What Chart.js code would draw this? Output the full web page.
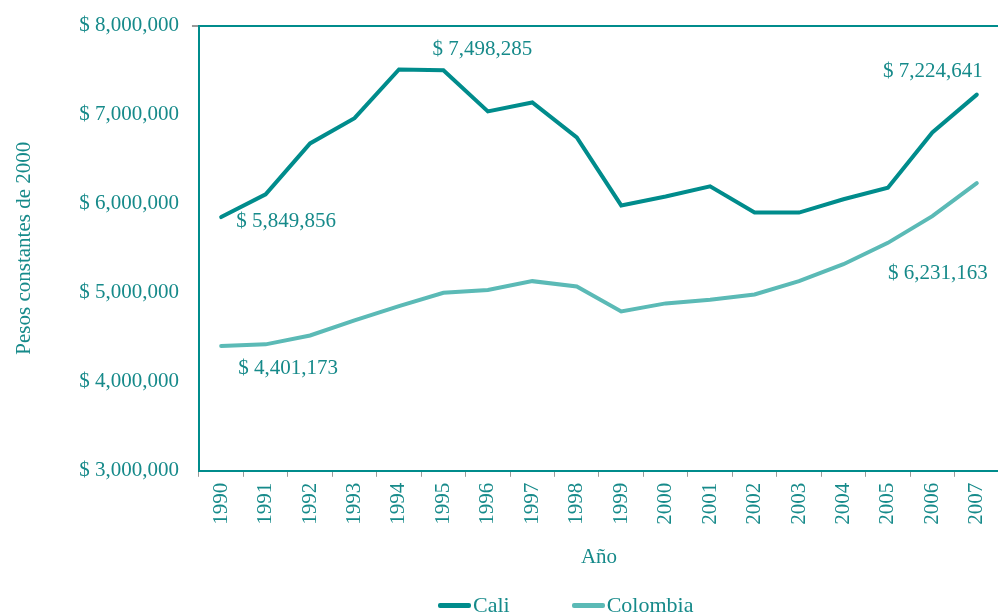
<!DOCTYPE html>
<html>
<head>
<meta charset="utf-8">
<script src="https://cdn.jsdelivr.net/npm/chart.js@4.4.1/dist/chart.umd.min.js"></script>
<style>
  html, body { margin: 0; padding: 0; background: #fff; overflow: hidden; }
  #box { width: 998px; height: 613px; position: relative; overflow: hidden; }
  #lienzo { width: 1008px; height: 613px; }
  #leyenda { position: absolute; left: 438px; top: 592px; display: flex; align-items: center;
             font-family: 'Liberation Serif', 'Times New Roman', serif; font-size: 22px; color: #168a8a; }
  #leyenda span.item { display: flex; align-items: center; margin-right: 62px; }
  #leyenda span.linea { display: inline-block; width: 33px; height: 5px; margin-right: 2px; border-radius: 2px; }
</style>
</head>
<body>
<div id="box"><div id="lienzo"><canvas id="grafico"></canvas></div><div id="leyenda"></div></div>
<script>
// datos (pesos constantes de 2000)
const anios = ['1990','1991','1992','1993','1994','1995','1996','1997','1998','1999',
               '2000','2001','2002','2003','2004','2005','2006','2007'];
const cali = [5849856, 6105000, 6677000, 6960000, 7507000, 7498285, 7036000, 7137000, 6745000,
              5980000, 6080000, 6195000, 5900000, 5900000, 6050000, 6180000, 6800000, 7224641];
const colombia = [4401173, 4420000, 4520000, 4690000, 4850000, 5000000, 5030000, 5130000, 5070000,
                  4790000, 4880000, 4920000, 4980000, 5130000, 5320000, 5560000, 5860000, 6231163];

// etiquetas de valores: [serie, índice]
const etiquetas = [
    { serie: 0, i: 0 },
    { serie: 0, i: 5 },
    { serie: 0, i: 17 },
    { serie: 1, i: 0 },
    { serie: 1, i: 17 }
];

const verde = '#008c8c';
const verdeClaro = '#5bbab6';
const texto = '#168a8a';
const fuente = 'Liberation Serif, Times New Roman, serif';

function pesos(v) {
    return '$ ' + Math.round(v).toLocaleString('en-US');
}

// plugin para escribir los valores junto a los puntos
const plugEtiquetas = {
    id: 'etiquetas',
    afterDatasetsDraw(chart) {
        const ctx = chart.ctx;
        const x = chart.scales.x, y = chart.scales.y;
        // desplazamientos de cada etiqueta respecto a su punto
        const ajustes = [
            { dx: 15, dy: 4, align: 'left' },
            { dx: 39, dy: -21, align: 'center' },
            { dx: 6, dy: -23, align: 'right' },
            { dx: 17, dy: 22, align: 'left' },
            { dx: 11, dy: 90, align: 'right' }
        ];
        ctx.save();
        ctx.font = '21px ' + fuente;
        ctx.fillStyle = texto;
        ctx.textBaseline = 'middle';
        etiquetas.forEach((e, k) => {
            const datos = e.serie === 0 ? cali : colombia;
            const px = x.getPixelForValue(e.i);
            const py = y.getPixelForValue(datos[e.i]);
            ctx.textAlign = ajustes[k].align;
            ctx.fillText(pesos(datos[e.i]), px + ajustes[k].dx, py + ajustes[k].dy);
        });
        ctx.restore();
    }
};

const ctx = document.getElementById('grafico').getContext('2d');
const grafico = new Chart(ctx, {
    type: 'line',
    data: {
        labels: anios,
        datasets: [{
            label: 'Cali',
            data: cali,
            borderColor: verde,
            backgroundColor: verde,
            borderWidth: 4,
            borderCapStyle: 'round',
            pointRadius: 0,
            tension: 0,
            fill: false
        }, {
            label: 'Colombia',
            data: colombia,
            borderColor: verdeClaro,
            backgroundColor: verdeClaro,
            borderWidth: 4,
            borderCapStyle: 'round',
            pointRadius: 0,
            tension: 0,
            fill: false
        }]
    },
    options: {
        responsive: true,
        maintainAspectRatio: false,
        animation: false,
        layout: { padding: { left: 12, top: 25, right: 0, bottom: 0 } },
        plugins: {
            tooltip: { enabled: false },
            legend: { display: false }
        },
        scales: {
            x: {
                offset: true,
                grid: {
                    offset: true,
                    drawOnChartArea: false,
                    tickColor: '#999',
                    tickLength: 6
                },
                border: { color: verde, width: 2 },
                ticks: {
                    color: texto,
                    minRotation: 90,
                    maxRotation: 90,
                    padding: 6,
                    font: { family: fuente, size: 21 }
                },
                title: {
                    display: true,
                    text: 'Año',
                    color: texto,
                    padding: { top: 14, bottom: 43 },
                    font: { family: fuente, size: 21 }
                }
            },
            y: {
                min: 3000000,
                max: 8000000,
                grid: {
                    color: c => c.tick && c.tick.value === 8000000 ? verde : 'rgba(0,0,0,0)',
                    lineWidth: c => c.tick && c.tick.value === 8000000 ? 2 : 0,
                    tickColor: '#999',
                    tickLength: 7
                },
                border: { color: verde, width: 2 },
                ticks: {
                    stepSize: 1000000,
                    color: texto,
                    padding: 13,
                    font: { family: fuente, size: 21 },
                    callback: v => pesos(v)
                },
                title: {
                    display: true,
                    text: 'Pesos constantes de 2000',
                    color: texto,
                    padding: { top: 0, bottom: 29 },
                    font: { family: fuente, size: 21 }
                }
            }
        }
    },
    plugins: [plugEtiquetas]
});

// leyenda en HTML a partir de las series
const leyenda = document.getElementById('leyenda');
grafico.data.datasets.forEach(ds => {
    const item = document.createElement('span');
    item.className = 'item';
    const linea = document.createElement('span');
    linea.className = 'linea';
    linea.style.background = ds.borderColor;
    item.appendChild(linea);
    item.appendChild(document.createTextNode(ds.label));
    leyenda.appendChild(item);
});
</script>
</body>
</html>
